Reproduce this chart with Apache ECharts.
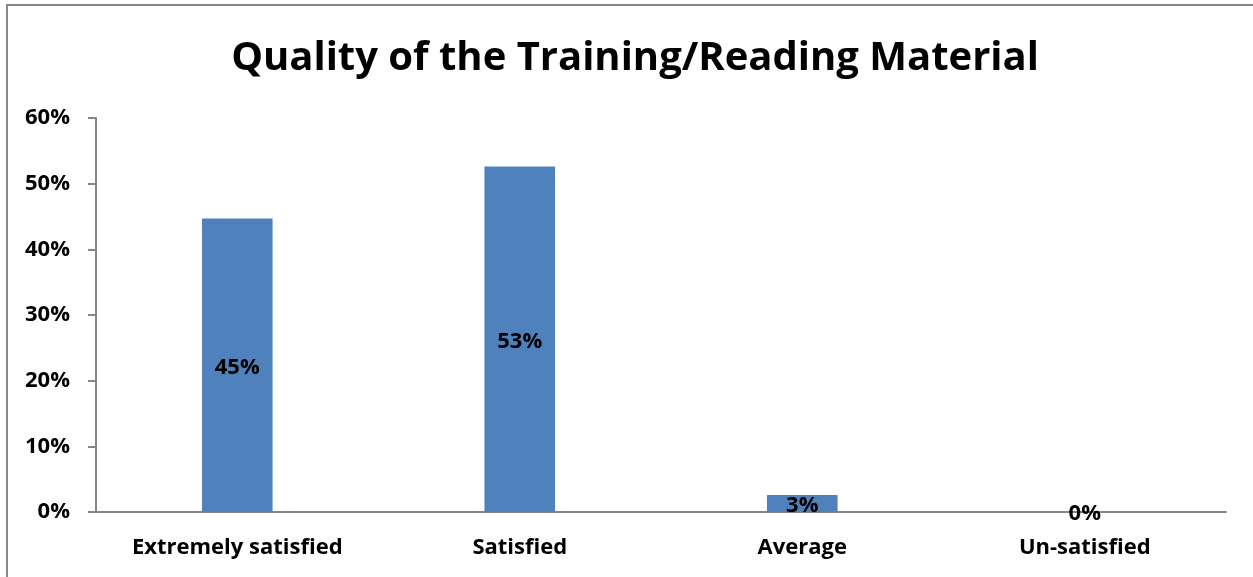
<!DOCTYPE html>
<html>
<head>
<meta charset="utf-8">
<script src="https://cdn.jsdelivr.net/npm/echarts@6/dist/echarts.min.js"></script>
<style>
  html, body { margin: 0; padding: 0; background: #fff; }
  #chart { width: 1253px; height: 577px; }
</style>
</head>
<body>
<div id="chart"></div>
<script>
// values
const categories = ['Extremely satisfied', 'Satisfied', 'Average', 'Un-satisfied'];
const shares = [44.7, 52.6, 2.6, 0];
const yTicks = { min: 0, max: 60, step: 10 };

const FONT = '"Open Sans", Lato, sans-serif';

const chart = echarts.init(document.getElementById('chart'));

chart.setOption({
  animation: false,
  backgroundColor: '#fff',
  title: {
    text: 'Quality of the Training/Reading Material',
    left: 630,
    textAlign: 'center',
    top: 34,
    textStyle: { fontFamily: FONT, fontSize: 40, fontWeight: 'bold', color: '#000' }
  },
  // outer frame of the original chart area (right/bottom edges fall off-canvas)
  graphic: [{
    type: 'rect',
    shape: { x: 7, y: 5, width: 1300, height: 640 },
    style: { fill: 'none', stroke: '#868686', lineWidth: 2 },
    silent: true
  }],
  grid: { left: 96, right: 27, top: 118, bottom: 65, containLabel: false },
  xAxis: {
    type: 'category',
    data: categories,
    axisLine: { show: true, lineStyle: { color: '#868686', width: 2 } },
    axisTick: { show: false },
    axisLabel: { margin: 25, color: '#000', fontFamily: FONT, fontSize: 22, fontWeight: 'bold' }
  },
  yAxis: {
    type: 'value',
    min: yTicks.min,
    max: yTicks.max,
    interval: yTicks.step,
    splitLine: { show: false },
    axisLine: { show: true, lineStyle: { color: '#868686', width: 2 } },
    axisTick: { show: true, length: 8, lineStyle: { color: '#868686', width: 2 } },
    axisLabel: { margin: 26, color: '#000', fontFamily: FONT, fontSize: 22, fontWeight: 'bold', formatter: '{value}%' }
  },
  series: [{
    type: 'bar',
    data: shares,
    barWidth: '25%',
    itemStyle: { color: '#4F81BD' },
    label: {
      show: true,
      position: 'inside',
      offset: [0, 2],
      color: '#000',
      fontFamily: FONT,
      fontSize: 22,
      fontWeight: 'bold',
      formatter: p => Math.round(p.value) + '%'
    }
  }]
});
</script>
</body>
</html>
